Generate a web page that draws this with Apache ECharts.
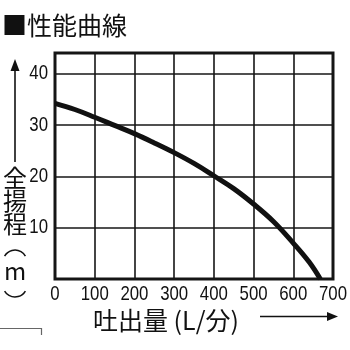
<!DOCTYPE html>
<html><head><meta charset="utf-8">
<script src="https://cdn.jsdelivr.net/npm/echarts@6/dist/echarts.min.js"></script>
<style>html,body{margin:0;padding:0;background:#fff}#c{width:350px;height:350px}</style>
</head><body><div id="c"></div>
<script>
var title = '■性能曲線';
var xName = '吐出量 (L/分)';
var yNameChars = ['全', '揚', '程'];
var yUnit = 'm';
var flow = [0, 50, 100, 150, 200, 250, 300, 350, 400, 450, 500, 550, 600, 640, 668];
var head = [34.2, 33.0, 31.5, 29.9, 28.3, 26.5, 24.6, 22.5, 20.1, 17.6, 14.6, 11.2, 7.0, 3.3, 0];
var xTicks = [0, 100, 200, 300, 400, 500, 600, 700];
var yTicks = [0, 10, 20, 30, 40];

var numFont = '21px "Liberation Sans", Arial, sans-serif';
var cjk = '"Noto Sans CJK JP", "Noto Sans", sans-serif';

var chart = echarts.init(document.getElementById('c'), null, {renderer: 'canvas'});
var baseGraphic = [
  {type: 'text', left: 2, top: 13, style: {text: title, font: '25px ' + cjk, fill: '#111'}},
  {type: 'line', shape: {x1: 15, y1: 68, x2: 15, y2: 162}, style: {stroke: '#111', lineWidth: 1.6}},
  {type: 'polygon', shape: {points: [[15, 59], [10.5, 71], [19.5, 71]]}, style: {fill: '#111'}},
  {type: 'text', x: 15, y: 178, style: {text: yNameChars[0], font: '24px ' + cjk, fill: '#111', align: 'center', verticalAlign: 'middle'}},
  {type: 'text', x: 15, y: 201, style: {text: yNameChars[1], font: '24px ' + cjk, fill: '#111', align: 'center', verticalAlign: 'middle'}},
  {type: 'text', x: 15, y: 224, style: {text: yNameChars[2], font: '24px ' + cjk, fill: '#111', align: 'center', verticalAlign: 'middle'}},
  {type: 'arc', shape: {cx: 15, cy: 262, r: 12, startAngle: -Math.PI * 5 / 6, endAngle: -Math.PI / 6, clockwise: true}, style: {stroke: '#111', lineWidth: 1.5, fill: null}},
  {type: 'text', x: 15, y: 271, style: {text: yUnit, font: '24px ' + cjk, fill: '#111', align: 'center', verticalAlign: 'middle'}},
  {type: 'arc', shape: {cx: 15, cy: 285, r: 12, startAngle: Math.PI / 6, endAngle: Math.PI * 5 / 6, clockwise: true}, style: {stroke: '#111', lineWidth: 1.5, fill: null}},
  {type: 'text', x: 93, y: 320, style: {text: xName, font: '25px ' + cjk, fill: '#111', align: 'left', verticalAlign: 'middle'}},
  {type: 'line', shape: {x1: 260, y1: 316.5, x2: 331, y2: 316.5}, style: {stroke: '#111', lineWidth: 1.6}},
  {type: 'polygon', shape: {points: [[338, 316.5], [327, 312], [327, 321]]}, style: {fill: '#111'}},
  {type: 'polyline', shape: {points: [[0, 328.5], [41.5, 328.5], [41.5, 335]]}, style: {stroke: '#666', lineWidth: 1.2, fill: null}}
];

chart.setOption({
  animation: false,
  backgroundColor: '#fff',
  grid: {left: 55, right: 17, top: 53, bottom: 71, show: true, borderColor: '#161616', borderWidth: 3, backgroundColor: 'transparent'},
  xAxis: {
    type: 'value', min: xTicks[0], max: xTicks[xTicks.length - 1], interval: 100,
    axisLine: {show: false}, axisTick: {show: false}, axisLabel: {show: false},
    splitLine: {show: true, lineStyle: {color: '#161616', width: 1.6}}
  },
  yAxis: {
    type: 'value', min: yTicks[0], max: 44, interval: 10,
    axisLine: {show: false}, axisTick: {show: false}, axisLabel: {show: false},
    splitLine: {show: true, lineStyle: {color: '#161616', width: 1.6}}
  },
  series: [{
    type: 'line', smooth: 0.4, symbol: 'none',
    data: flow.map(function (f, i) { return [f, head[i]]; }),
    lineStyle: {color: '#111', width: 5}
  }],
  graphic: baseGraphic
});

// Condensed tick labels placed through the library's own scales
var labels = [];
xTicks.forEach(function (v) {
  var p = chart.convertToPixel({gridIndex: 0}, [v, 0]);
  labels.push({type: 'text', x: p[0], y: p[1] + 5, scaleX: 0.8,
    style: {text: String(v), font: numFont, fill: '#111', align: 'center', verticalAlign: 'top'}});
});
yTicks.slice(1).forEach(function (v) {
  var p = chart.convertToPixel({gridIndex: 0}, [0, v]);
  labels.push({type: 'text', x: p[0] - 7, y: p[1], scaleX: 0.8,
    style: {text: String(v), font: numFont, fill: '#111', align: 'right', verticalAlign: 'middle'}});
});
chart.setOption({graphic: baseGraphic.concat(labels)}, {replaceMerge: ['graphic']});
</script></body></html>
